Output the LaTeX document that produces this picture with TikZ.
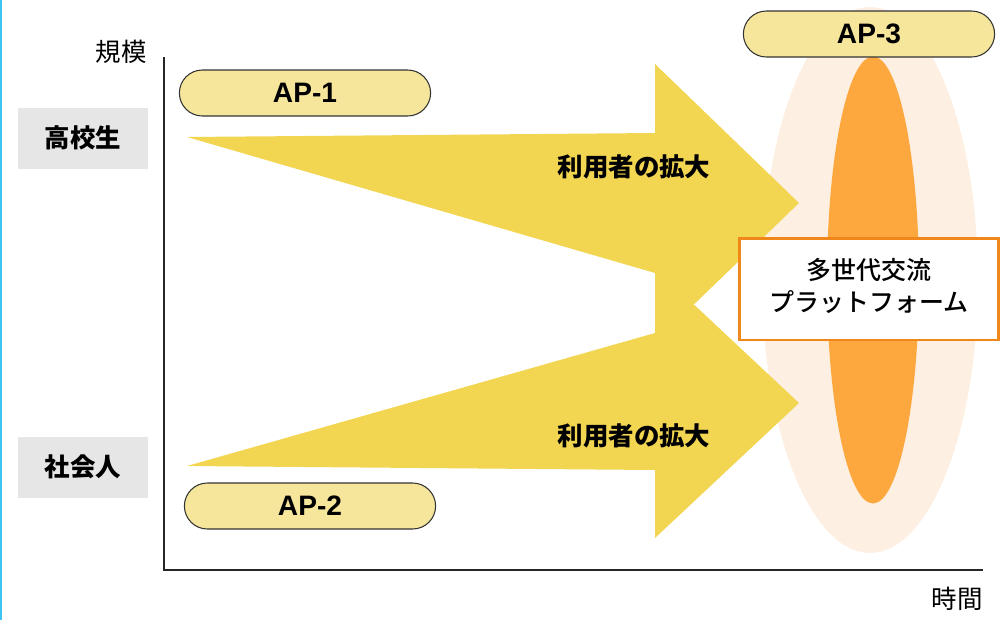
\documentclass[tikz,border=0pt]{standalone}
\usepackage{fontspec}
\setmainfont{Liberation Sans}
\newfontfamily\jp{Noto Sans CJK JP}
\newfontfamily\jpm{Noto Sans CJK JP Medium}
\usetikzlibrary{shapes.geometric, shapes.misc}
\definecolor{flare}{HTML}{F2D651}
\definecolor{pillfill}{HTML}{F5E69B}
\definecolor{pillline}{HTML}{333333}
\definecolor{glowfill}{HTML}{FDEFE2}
\definecolor{corefill}{HTML}{FDA73F}
\definecolor{boxline}{HTML}{F0871A}
\definecolor{groupgray}{HTML}{E6E6E6}
\definecolor{edgeblue}{HTML}{3DC4F4}

\begin{document}
\begin{tikzpicture}
                                [
                                    x=0.02cm, y=-0.02cm,
                                    pill/.style = {draw=pillline, fill=pillfill, shape=rounded rectangle, minimum width=5.26cm, minimum height=0.92cm, line width=0.6pt, font=\bfseries\fontsize{16}{18}\selectfont},
                                    group/.style = {fill=groupgray, shape=rectangle, minimum width=2.6cm, minimum height=1.22cm, font=\jp\bfseries\fontsize{14.5}{17}\selectfont},
                                    axislabel/.style = {font=\jp\fontsize{14.5}{17}\selectfont},
                                    flarelabel/.style = {font=\jp\bfseries\fontsize{14.5}{17}\selectfont},
                                ]

                                \useasboundingbox (0,0) rectangle (1001,620);
                                \draw [edgeblue, line width=1.2pt] (1,0) -- (1,620);

                                \node[shape=ellipse, fill=glowfill, minimum width=4.32cm, minimum height=10.92cm] (glow) at (870,280) {};
                                \node[shape=ellipse, fill=corefill, minimum width=1.84cm, minimum height=8.94cm] (core) at (873,280) {};

                                \coordinate (ytop) at (164,57);
                                \coordinate (origin) at (164,570);
                                \coordinate (xend) at (983,570);
                                \draw [line width=0.9pt, black!85] (ytop) -- (origin) -- (xend);

                                \node[axislabel, anchor=east] (scale) at (153,52) {規模};
                                \node[axislabel] (time) at (957,599) {時間};

                                \node[group] (hs) at (83,138) {高校生};
                                \node[group] (adult) at (83,467) {社会人};

                                \fill [flare] (187,137) -- (655,133) -- (655,64) -- (799,203) -- (655,342) -- (655,273) -- cycle;
                                \fill [flare] (187,466) -- (655,333) -- (655,268) -- (799,403) -- (655,538) -- (655,470) -- cycle;

                                \node[flarelabel] (growa) at (634,167) {利用者の拡大};
                                \node[flarelabel] (growb) at (634,436) {利用者の拡大};

                                \node[pill] (ap1) at (305,93) {AP-1};
                                \node[pill] (ap2) at (310,506) {AP-2};
                                \node[pill] (ap3) at (869,34) {AP-3};

                                \node[draw=boxline, fill=white, line width=1.7pt, minimum width=5.2cm, minimum height=2.04cm] (platform) at (869,289) {};
                                \node[align=center, font=\jpm\fontsize{14.2}{18}\selectfont] (platformtext) at (869,286) {多世代交流\\プラットフォーム};
                            \end{tikzpicture}
\end{document}
